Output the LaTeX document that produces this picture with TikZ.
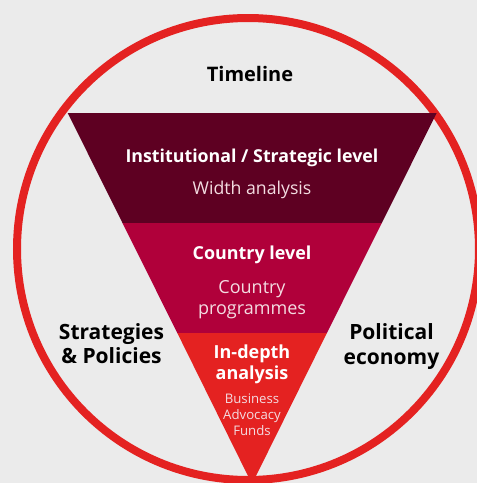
\documentclass[tikz,border=0pt]{standalone}
\usepackage{fontspec}
\setmainfont{Open Sans}
\definecolor{bgc}{HTML}{EBEBEB}
\definecolor{ringred}{HTML}{E42221}
\definecolor{maroon}{HTML}{5E0022}
\definecolor{crimson}{HTML}{B0003A}
\definecolor{brightred}{HTML}{E42221}
\definecolor{subtxt}{HTML}{F3DCE1}
\begin{document}
\begin{tikzpicture}[x=1pt,y=-1pt,
  lab/.style={inner sep=0pt,align=center,anchor=base},
  wtitle/.style={inner sep=0pt,align=center,anchor=base,text=white},
  wsub/.style={inner sep=0pt,align=center,anchor=base,text=subtxt}]
\fill[bgc] (0,0) rectangle (477,483);
\useasboundingbox (0,0) rectangle (477,483);
% ring
\draw[ringred,line width=8pt] (248,249) circle (231);
% funnel bands
\coordinate (tl) at (67.7,113);
\coordinate (tr) at (436.7,113);
\coordinate (ml) at (122.5,223);
\coordinate (mr) at (381.8,223);
\coordinate (ll) at (177.3,333);
\coordinate (lr) at (326.9,333);
\coordinate (apex) at (252,484);
\fill[maroon] (tl) -- (tr) -- (mr) -- (ml) -- cycle;
\fill[crimson] (ml) -- (mr) -- (lr) -- (ll) -- cycle;
\fill[brightred] (ll) -- (lr) -- (apex) -- cycle;
% texts (multi-line nodes: base = last line)
\node[lab,font=\bfseries\fontsize{20}{24}\selectfont] (timeline) at (250,81.5) {Timeline};
\node[wtitle,font=\bfseries\fontsize{17.8}{21}\selectfont] (inst) at (252,162) {Institutional / Strategic level};
\node[wsub,font=\fontsize{17.7}{21}\selectfont] (width) at (252,194) {Width analysis};
\node[wtitle,font=\bfseries\fontsize{17.9}{21}\selectfont] (country) at (252,259) {Country level};
\node[wsub,font=\fontsize{18}{21}\selectfont] (cprog) at (252,314) {Country\\programmes};
\node[wtitle,font=\bfseries\fontsize{18}{21}\selectfont] (indepth) at (252,379) {In-depth\\analysis};
\node[wsub,font=\fontsize{13.2}{16}\selectfont] (bus) at (252,435) {Business\\Advocacy\\Funds};
\node[lab,font=\bfseries\fontsize{21}{24}\selectfont] (strat) at (111.5,363) {Strategies\\\& Policies};
\node[lab,font=\bfseries\fontsize{21}{24.5}\selectfont] (polit) at (391.5,364) {Political\\economy};
\end{tikzpicture}
\end{document}
